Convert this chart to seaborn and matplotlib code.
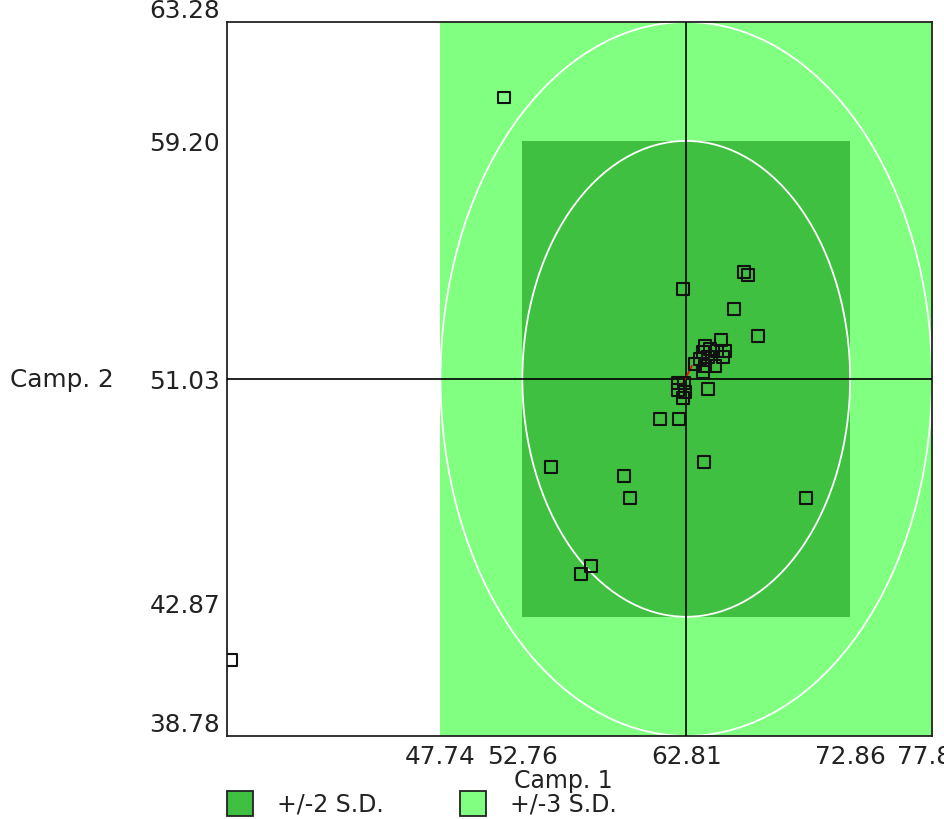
import matplotlib
matplotlib.use("Agg")
import matplotlib.pyplot as plt
from matplotlib.patches import Rectangle, Ellipse
import pandas as pd
import seaborn as sns

# Paired scores for the two campaigns
camp1 = [51.64, 62.63, 66.37, 66.61, 65.75, 67.23, 64.96, 63.98, 64.28, 64.71,
         65.20, 63.84, 63.66, 64.16, 65.08, 63.36, 63.98, 64.59, 63.84, 62.32,
         62.69, 62.32, 62.75, 62.63, 64.16, 61.21, 62.38, 63.91, 54.53, 59.01,
         59.37, 70.17, 56.98, 56.37, 34.89]
camp2 = [60.69, 54.11, 54.70, 54.59, 53.43, 52.50, 52.37, 52.16, 52.06, 51.99,
         51.99, 51.96, 51.72, 51.78, 51.78, 51.54, 51.48, 51.48, 51.27, 50.89,
         50.89, 50.65, 50.58, 50.38, 50.69, 49.66, 49.66, 48.19, 48.02, 47.71,
         46.95, 46.95, 44.62, 44.35, 41.40]

# Mean and +/-2, +/-3 S.D. bounds for each axis (also the tick values)
x_ticks = [47.74, 52.76, 62.81, 72.86, 77.88]
y_ticks = [38.78, 42.87, 51.03, 59.20, 63.28]
x_tick_labels = ["47.74", "52.76", "62.81", "72.86", "77.88"]
y_tick_labels = ["38.78", "42.87", "51.03", "59.20", "63.28"]
x_min = 34.65

legend_labels = ["+/-2 S.D.", "+/-3 S.D."]
x_title = "Camp. 1"
y_title = "Camp. 2"

DARK = "#40C040"
LIGHT = "#80FF80"
TEXT = "#222222"
FS = 17.8

sns.set_theme(style="white")
plt.rcParams["font.family"] = ["DejaVu Sans"]

df = pd.DataFrame({"camp1": camp1, "camp2": camp2})

fig = plt.figure(figsize=(9.45, 8.2), dpi=100)
ax = fig.add_axes([227 / 945, 1 - 737 / 820, 705 / 945, 714 / 820])

x3lo, x2lo, xm, x2hi, x3hi = x_ticks
y3lo, y2lo, ym, y2hi, y3hi = y_ticks

# Shaded +/-3 and +/-2 S.D. boxes
ax.add_patch(Rectangle((x3lo, y3lo), x3hi - x3lo, y3hi - y3lo,
                       facecolor=LIGHT, edgecolor="none", zorder=0))
ax.add_patch(Rectangle((x2lo, y2lo), x2hi - x2lo, y2hi - y2lo,
                       facecolor=DARK, edgecolor="none", zorder=1))

# Confidence ellipses inscribed in each box
for (xl, xh, yl, yh) in [(x3lo, x3hi, y3lo, y3hi), (x2lo, x2hi, y2lo, y2hi)]:
    ax.add_patch(Ellipse(((xl + xh) / 2, (yl + yh) / 2), xh - xl, yh - yl,
                         facecolor="none", edgecolor="white", lw=1.3, zorder=2))

# Cross-hair through the means
ax.axvline(xm, color="black", lw=1.2, zorder=3)
ax.axhline(ym, color="black", lw=1.2, zorder=3)

sns.scatterplot(data=df, x="camp1", y="camp2", marker="s", s=74,
                facecolor="none", edgecolor="#111111", linewidth=1.5,
                ax=ax, zorder=4, legend=False)

# Small marker at the centroid
ax.plot([xm - 0.25, xm + 0.35], [ym - 0.2, ym + 0.45], color="red", lw=1.2, zorder=3.5)

ax.set_xlim(x_min, x3hi)
ax.set_ylim(y3lo, y3hi)
ax.set_xlabel("")
ax.set_ylabel("")
ax.set_xticks(x_ticks)
ax.set_xticklabels(x_tick_labels)
ax.set_yticks(y_ticks)
ax.set_yticklabels(y_tick_labels)
ax.tick_params(axis="both", length=0, labelsize=FS, labelcolor=TEXT)
ax.tick_params(axis="x", pad=6)
ax.tick_params(axis="y", pad=5)
for lab in ax.get_yticklabels():
    if lab.get_text() in ("38.78", "42.87", "63.28"):
        lab.set_va("bottom")

for sp in ax.spines.values():
    sp.set_visible(True)
    sp.set_color("#222222")
    sp.set_linewidth(1.3)

fig.text(10 / 945, 1 - 380 / 820, y_title, ha="left", va="center",
         fontsize=FS, color=TEXT)
fig.text(563 / 945, 1 - 781 / 820, x_title, ha="center", va="center",
         fontsize=17, color=TEXT)

# Legend swatches along the bottom
for x0, col, lab in [(227, DARK, legend_labels[0]), (460, LIGHT, legend_labels[1])]:
    fig.add_artist(Rectangle((x0 / 945, 1 - 817 / 820), 26 / 945, 25 / 820,
                             transform=fig.transFigure, facecolor=col,
                             edgecolor="#222222", lw=1.3))
    fig.text((x0 + 50) / 945, 1 - 805 / 820, lab, ha="left", va="center",
             fontsize=17, color=TEXT)

fig.savefig("out.png", dpi=100)
